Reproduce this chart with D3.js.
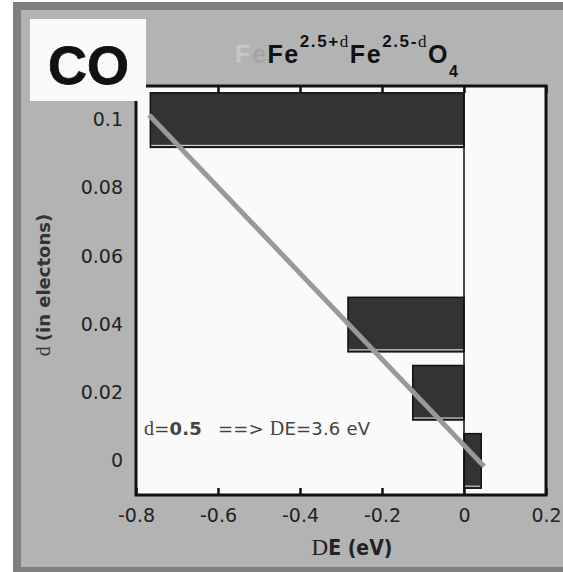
<!DOCTYPE html>
<html>
<head>
<meta charset="utf-8">
<script src="https://cdn.jsdelivr.net/npm/d3@7"></script>
<style>
  body { margin: 0; background: #fff; }
</style>
</head>
<body>
<svg id="chart" width="563" height="572" font-family="DejaVu Sans, sans-serif"></svg>
<script>
// categories on the d axis, bottom to top
const dCats = ["0", "0.02", "0.04", "0.06", "0.08", "0.1"]
// bars: category and DE value (eV)
const barCats = ["0.1", "0.04", "0.02", "0"]
const barValues = [-0.765, -0.283, -0.125, 0.042]
// x tick labels
const xTicks = [-0.8, -0.6, -0.4, -0.2, 0, 0.2]
// grey trend line
const lineDE = [-0.768, 0.049]
const lineD = [0.1015, -0.0016]

const svg = d3.select("#chart")
const width = +svg.attr("width")
const height = +svg.attr("height")

// outer panel
svg.append("rect").attr("x", 13).attr("y", 2).attr("width", width - 13).attr("height", height - 2).attr("fill", "#7f7f7f")
svg.append("rect").attr("x", 21).attr("y", 10).attr("width", width - 21).attr("height", 557).attr("fill", "#b3b3b3")

const plot = { left: 136, right: 546, top: 86, bottom: 495 }

const xScale = d3.scaleLinear()
    .domain([-0.8, 0.2])
    .range([plot.left, plot.right])

const yScale = d3.scaleBand()
    .domain(dCats)
    .range([plot.bottom, plot.top])
    .paddingInner(0.2)
    .paddingOuter(0.1)

const yCenter = c => yScale(c) + yScale.bandwidth() / 2
const yLin = d3.scaleLinear()
    .domain([0, 0.1])
    .range([yCenter("0"), yCenter("0.1")])

// plot background
svg.append("rect")
    .attr("x", plot.left).attr("y", plot.top)
    .attr("width", plot.right - plot.left).attr("height", plot.bottom - plot.top)
    .attr("fill", "#fafafa")

// bars
const bars = barCats.map((c, i) => ({ cat: c, value: barValues[i] }))
const g = svg.append("g")
g.selectAll("rect.bar")
    .data(bars)
    .enter()
    .append("rect")
    .attr("class", "bar")
    .attr("x", d => xScale(Math.min(0, d.value)))
    .attr("y", d => yScale(d.cat))
    .attr("width", d => Math.abs(xScale(d.value) - xScale(0)))
    .attr("height", yScale.bandwidth())
    .attr("fill", "#333")
    .attr("stroke", "#111")
    .attr("stroke-width", 1.5)

g.selectAll("line.shine")
    .data(bars)
    .enter()
    .append("line")
    .attr("class", "shine")
    .attr("x1", d => xScale(Math.min(0, d.value)) + 1)
    .attr("x2", d => xScale(Math.max(0, d.value)) - 1)
    .attr("y1", d => yScale(d.cat) + yScale.bandwidth() - 2)
    .attr("y2", d => yScale(d.cat) + yScale.bandwidth() - 2)
    .attr("stroke", "#eee")
    .attr("stroke-width", 1)

// zero line
svg.append("line")
    .attr("x1", xScale(0)).attr("x2", xScale(0))
    .attr("y1", plot.top).attr("y2", plot.bottom)
    .attr("stroke", "#111").attr("stroke-width", 1.5)

// trend line
const lineGenerator = d3.line()
    .x(d => xScale(d[0]))
    .y(d => yLin(d[1]))
svg.append("path")
    .attr("d", lineGenerator(lineDE.map((v, i) => [v, lineD[i]])))
    .attr("fill", "none")
    .attr("stroke", "#999")
    .attr("stroke-width", 5)

// axes
const xAxis = d3.axisBottom(xScale)
    .tickValues(xTicks)
    .tickFormat(d => String(d))
    .tickSizeInner(-7)
    .tickSizeOuter(0)
    .tickPadding(13.5)
const xAxisG = svg.append("g")
    .attr("transform", `translate(0,${plot.bottom})`)
    .call(xAxis)
xAxisG.select(".domain").remove()
xAxisG.selectAll("line").attr("stroke", "#111").attr("stroke-width", 2.5)
xAxisG.selectAll("text").attr("font-size", 19).attr("fill", "#222").attr("font-family", "DejaVu Sans")

const topAxis = d3.axisTop(xScale)
    .tickValues(xTicks)
    .tickFormat("")
    .tickSizeInner(-7)
    .tickSizeOuter(0)
const topAxisG = svg.append("g")
    .attr("transform", `translate(0,${plot.top})`)
    .call(topAxis)
topAxisG.select(".domain").remove()
topAxisG.selectAll("line").attr("stroke", "#111").attr("stroke-width", 2.5)

const yAxis = d3.axisLeft(yScale)
    .tickSize(0)
    .tickPadding(13)
const yAxisG = svg.append("g")
    .attr("transform", `translate(${plot.left},0)`)
    .call(yAxis)
yAxisG.select(".domain").remove()
yAxisG.selectAll("text").attr("font-size", 19).attr("fill", "#222").attr("font-family", "DejaVu Sans")

// frame
svg.append("rect")
    .attr("x", plot.left).attr("y", plot.top)
    .attr("width", plot.right - plot.left).attr("height", plot.bottom - plot.top)
    .attr("fill", "none")
    .attr("stroke", "#111")
    .attr("stroke-width", 3)

// CO box
svg.append("rect").attr("x", 30).attr("y", 19).attr("width", 116).attr("height", 82).attr("fill", "#fafafa")
svg.append("text")
    .attr("x", 48).attr("y", 84)
    .attr("font-family", "Liberation Sans, Arial, sans-serif")
    .attr("font-weight", "bold")
    .attr("font-size", 54)
    .attr("stroke", "#111")
    .attr("stroke-width", 0.8)
    .attr("fill", "#111")
    .text("CO")

// title
const title = svg.append("text")
    .attr("x", 235).attr("y", 63)
    .attr("font-family", "Liberation Sans, Arial, sans-serif")
    .attr("font-weight", "bold")
    .attr("font-size", 25)
    .attr("letter-spacing", 1.6)
    .attr("fill", "#111")
title.append("tspan").attr("fill", "#c6c6c6").text("F")
title.append("tspan").attr("fill", "#a4a4a4").text("e")
title.append("tspan").text("Fe")
title.append("tspan").attr("font-size", 17).attr("dy", -16).text("2.5+")
title.append("tspan").attr("font-size", 17).attr("font-weight", "normal").attr("font-family", "Liberation Serif, serif").text("d")
title.append("tspan").attr("dy", 16).text("Fe")
title.append("tspan").attr("font-size", 17).attr("dy", -16).text("2.5-")
title.append("tspan").attr("font-size", 17).attr("font-weight", "normal").attr("font-family", "Liberation Serif, serif").text("d")
title.append("tspan").attr("dy", 16).text("O")
title.append("tspan").attr("font-size", 16).attr("dy", 14).text("4")

// annotation
const note = svg.append("text")
    .attr("x", 144).attr("y", 435)
    .attr("font-size", 18)
    .attr("letter-spacing", 0.2)
    .attr("fill", "#444")
note.append("tspan").attr("font-family", "Liberation Serif, serif").attr("font-size", 20).text("d")
note.append("tspan").text("=")
note.append("tspan").attr("font-weight", "bold").text("0.5")
note.append("tspan").attr("dx", 16).text("==> ")
note.append("tspan").attr("font-family", "Liberation Serif, serif").attr("font-size", 20).text("D")
note.append("tspan").text("E=3.6 eV")

// x axis label
const xLabel = svg.append("text")
    .attr("x", 352).attr("y", 555)
    .attr("text-anchor", "middle")
    .attr("font-size", 21)
    .attr("fill", "#222")
xLabel.append("tspan").attr("font-family", "Liberation Serif, serif").attr("font-size", 23).text("D")
xLabel.append("tspan").attr("font-family", "DejaVu Sans Condensed, DejaVu Sans").attr("font-weight", "bold").text("E (eV)")

// y axis label
const yLabel = svg.append("text")
    .attr("transform", "translate(50,285) rotate(-90)")
    .attr("text-anchor", "middle")
    .attr("font-size", 18)
    .attr("fill", "#333")
yLabel.append("tspan").attr("font-family", "Liberation Serif, serif").attr("font-size", 20).text("d ")
yLabel.append("tspan").attr("font-weight", "bold").text("(in electons)")
</script>
</body>
</html>
